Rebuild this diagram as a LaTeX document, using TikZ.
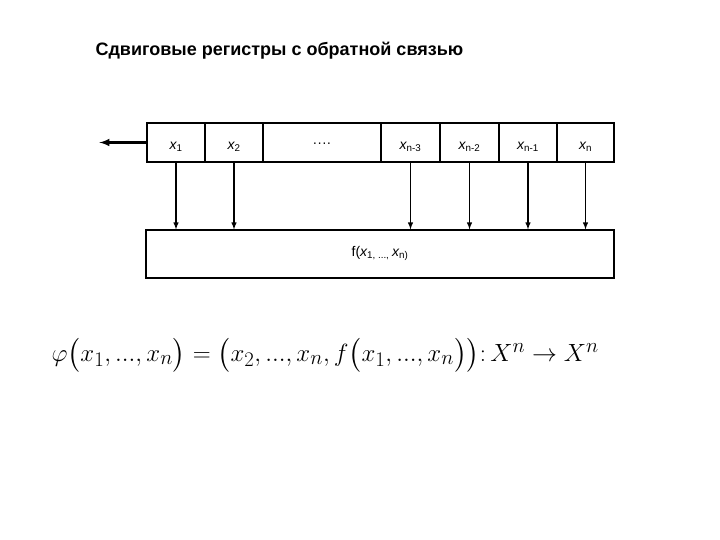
\documentclass[tikz,border=0pt]{standalone}
\usepackage[no-math]{fontspec}
\setmainfont{Liberation Sans}
\usepackage{amsmath,amssymb}
\usetikzlibrary{positioning}

\tikzset{
  cell/.style={draw, line width=1.1pt, minimum height=39pt, inner sep=0pt, text height=14pt, text depth=0pt, font=\fontsize{14}{16}\selectfont},
  feed/.style={line width=1.4pt, ->, >=latex}
}
\newcommand{\xv}[1]{{\itshape x}\textsubscript{#1}}

\begin{document}
\begin{tikzpicture}[x=1pt,y=-1pt]
\useasboundingbox (0,0) rectangle (720,540);
\node[anchor=base west, font=\bfseries\fontsize{18}{20}\selectfont] (title) at (92,56) {Сдвиговые регистры с обратной связью};
\node[cell, minimum width=58pt] (c1) at (176,142.5) {\xv{1}};
\node[cell, minimum width=58pt] (c2) at (234,142.5) {\xv{2}};
\node[cell, minimum width=118pt, text height=10pt] (cd) at (322,142.5) {\textperiodcentered\textperiodcentered\textperiodcentered\textperiodcentered};
\node[cell, minimum width=59pt] (c3) at (410.5,142.5) {\xv{n-3}};
\node[cell, minimum width=59pt] (c4) at (469.5,142.5) {\xv{n-2}};
\node[cell, minimum width=58pt] (c5) at (528,142.5) {\xv{n-1}};
\node[cell, minimum width=57pt] (c6) at (585.5,142.5) {\xv{n}};
\node[cell, minimum width=468pt, minimum height=48pt, text height=5pt] (fbox) at (380,254)
  {f({\itshape x}\textsubscript{1, ..., }{\itshape x}\textsubscript{n)}};
\coordinate[left=47pt of c1.west] (out);
\draw[line width=2.4pt, ->, >=latex] (c1.west) -- (out);
\foreach \c in {c1,c2,c3,c4,c5,c6}
  \draw[feed] (\c.south) -- (\c.south |- fbox.north);
\node[anchor=west, font=\fontsize{28.3}{32}\selectfont] (phi) at (48,355)
  {$\varphi\bigl(x_1,...,x_n\bigr)=\bigl(x_2,...,x_n,f\bigl(x_1,...,x_n\bigr)\bigr)\mathpunct{:}X^n\to X^n$};
\end{tikzpicture}
\end{document}
